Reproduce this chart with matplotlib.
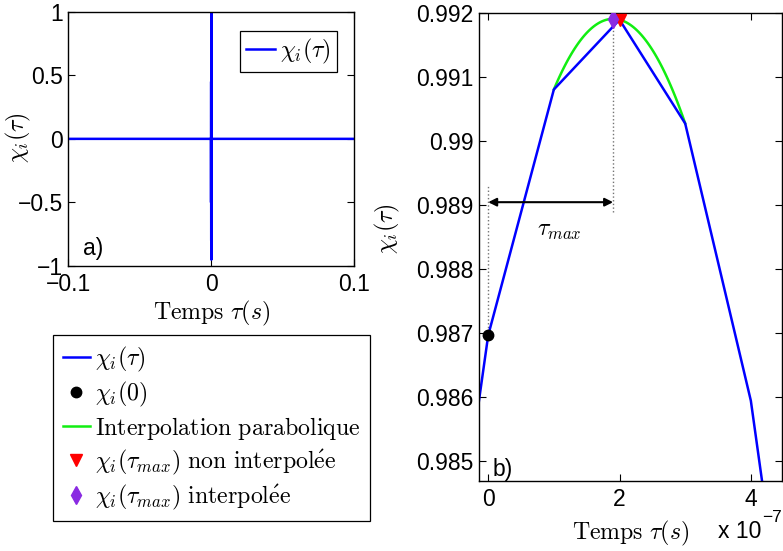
import numpy as np
import matplotlib
matplotlib.use("Agg")
import matplotlib.pyplot as plt
from matplotlib.ticker import FuncFormatter

plt.rcParams['font.family'] = ['Liberation Sans', 'DejaVu Sans']
plt.rcParams['mathtext.fontset'] = 'cm'
plt.rcParams['axes.unicode_minus'] = True

# ---- data: panel a (full correlation) ----
tau_a = [-0.1, -0.0002, -0.00015, -0.0001, -0.00005, 0.0, 0.00005, 0.0001, 0.00015, 0.0002, 0.1]
chi_a = [0.0, 0.0, -0.5, 0.45, -0.8, 1.0, -0.95, 0.55, -0.75, 0.0, 0.0]

# ---- data: panel b (zoom around the peak) ----
tau_b = [-1e-7, 0.0, 1e-7, 2e-7, 3e-7, 4e-7, 5e-7]
chi_b = [0.9797, 0.98697, 0.99081, 0.99190, 0.99028, 0.98595, 0.9786]
chi_0 = 0.98697
ann_y = 0.98905           # level of the tau_max arrow
guide_top0 = 0.98932      # top of dotted guide at tau = 0
lab_x, lab_y = 1.08e-7, 0.9886   # position of the tau_max label

def fmt(v, pos=None):
    s = '%g' % v
    return s.replace('-', '\u2212')

TFS = 16.5   # tick font
MFS = 17.2   # LaTeX-like text

fig = plt.figure(figsize=(7.83, 5.51), dpi=100)
W, H = 783.0, 551.0

# ---------------- panel a ----------------
ax1 = fig.add_axes([68.3 / W, 1 - 266 / H, (354.3 - 68.3) / W, (266 - 11.7) / H])
la, = ax1.plot(tau_a, chi_a, color='#0000ff', lw=1.8)
ax1.set_xlim(-0.1, 0.1)
ax1.set_ylim(-1, 1)
ax1.set_xticks([-0.1, 0, 0.1])
ax1.set_yticks([-1, -0.5, 0, 0.5, 1])
ax1.xaxis.set_major_formatter(FuncFormatter(fmt))
ax1.yaxis.set_major_formatter(FuncFormatter(fmt))
ax1.set_xlabel(r'$\mathrm{Temps}\ \tau(s)$', fontsize=MFS, labelpad=2)
ax1.set_ylabel(r'$\chi_i(\tau)$', fontsize=MFS)
ax1.yaxis.set_label_coords(-0.125, 0.505)
ax1.text(0.051, 0.067, 'a)', transform=ax1.transAxes, fontsize=TFS, ha='left', va='center')
leg1 = ax1.legend([la], [r'$\chi_i(\tau)$'], loc='upper right', bbox_to_anchor=(0.94, 0.925),
                  fancybox=False, edgecolor='k', framealpha=1, fontsize=MFS,
                  handlelength=1.25, handletextpad=0.2, borderpad=0.25, borderaxespad=0)
leg1.get_frame().set_linewidth(0.9)

# ---------------- panel b ----------------
ax2 = fig.add_axes([479 / W, 1 - 480.7 / H, (781.7 - 479) / W, (480.7 - 13.3) / H])
lb, = ax2.plot(tau_b, chi_b, color='#0000ff', lw=1.8)

# parabolic interpolation through the three samples around the max
imax = int(np.argmax(chi_b))
xs = np.array(tau_b[imax - 1:imax + 2])
ys = np.array(chi_b[imax - 1:imax + 2])
coef = np.polyfit(xs / 1e-7, ys, 2)
xf = np.linspace(xs[0], xs[-1], 100)
lg, = ax2.plot(xf, np.polyval(coef, xf / 1e-7), color='#11ee11', lw=1.8, zorder=1)
tau_max = -coef[1] / (2 * coef[0]) * 1e-7
chi_max = np.polyval(coef, tau_max / 1e-7)

# dotted guides
ax2.plot([0, 0], [chi_0, guide_top0], ':', color='0.45', lw=1.0, zorder=1)
ax2.plot([tau_max, tau_max], [ann_y - 0.00015, chi_max], ':', color='0.45', lw=1.0, zorder=1)

l0, = ax2.plot([0], [chi_0], 'o', color='k', markersize=7.5, linestyle='none', zorder=4)
lr, = ax2.plot([tau_b[imax]], [chi_b[imax]], 'v', color='#ff0000', markersize=8, linestyle='none', zorder=4)
lp, = ax2.plot([tau_max], [chi_max], 'd', color='#8a2be2', markersize=9, linestyle='none', zorder=5)

ax2.annotate('', xy=(0, ann_y), xytext=(tau_max, ann_y),
             arrowprops=dict(arrowstyle='<|-|>', color='k', lw=1.5, mutation_scale=12,
                             shrinkA=0, shrinkB=0))
ax2.text(lab_x, lab_y, r'$\tau_{max}$', fontsize=MFS, ha='center', va='center')

ax2.set_xlim(-0.14e-7, 4.47e-7)
ax2.set_ylim(0.9847, 0.992)
ax2.set_xticks([0, 2e-7, 4e-7])
ax2.xaxis.set_major_formatter(FuncFormatter(lambda v, p: '%g' % round(v / 1e-7, 6)))
ax2.set_yticks([0.985, 0.986, 0.987, 0.988, 0.989, 0.99, 0.991, 0.992])
ax2.yaxis.set_major_formatter(FuncFormatter(lambda v, p: '%g' % round(v, 6)))
ax2.set_xlabel(r'$\mathrm{Temps}\ \tau(s)$', fontsize=MFS, labelpad=6)
ax2.set_ylabel(r'$\chi_i(\tau)$', fontsize=MFS)
ax2.yaxis.set_label_coords(-0.254, 0.5385)
ax2.text(0.046, 0.025, 'b)', transform=ax2.transAxes, fontsize=TFS, ha='left', va='center')
fig.text(718 / W, 1 - 532 / H, 'x 10', fontsize=TFS, ha='left', va='center')
fig.text(762 / W, 1 - 517 / H, '\u22127', fontsize=12.5, ha='left', va='center')

for ax in (ax1, ax2):
    ax.tick_params(direction='in', top=True, right=True, length=5, width=0.8, labelsize=TFS,
                   pad=5)
    ax.tick_params(axis='y', pad=4)
    for sp in ax.spines.values():
        sp.set_linewidth(1.0)

# ---------------- big legend ----------------
leg2 = fig.legend([lb, l0, lg, lr, lp],
                  [r'$\chi_i(\tau)$', r'$\chi_i(0)$', r'$\mathrm{Interpolation\ parabolique}$',
                   r'$\chi_i(\tau_{max})\ \mathrm{non\ interpol\acute{e}e}$',
                   r'$\chi_i(\tau_{max})\ \mathrm{interpol\acute{e}e}$'],
                  loc='upper left', bbox_to_anchor=(53 / W, 1 - 335 / H),
                  fancybox=False, edgecolor='k', framealpha=1, fontsize=MFS,
                  handlelength=1.15, handletextpad=0.2, borderpad=0.4, borderaxespad=0,
                  labelspacing=0.25)
leg2.get_frame().set_linewidth(0.9)

fig.savefig('out.png', dpi=100)
